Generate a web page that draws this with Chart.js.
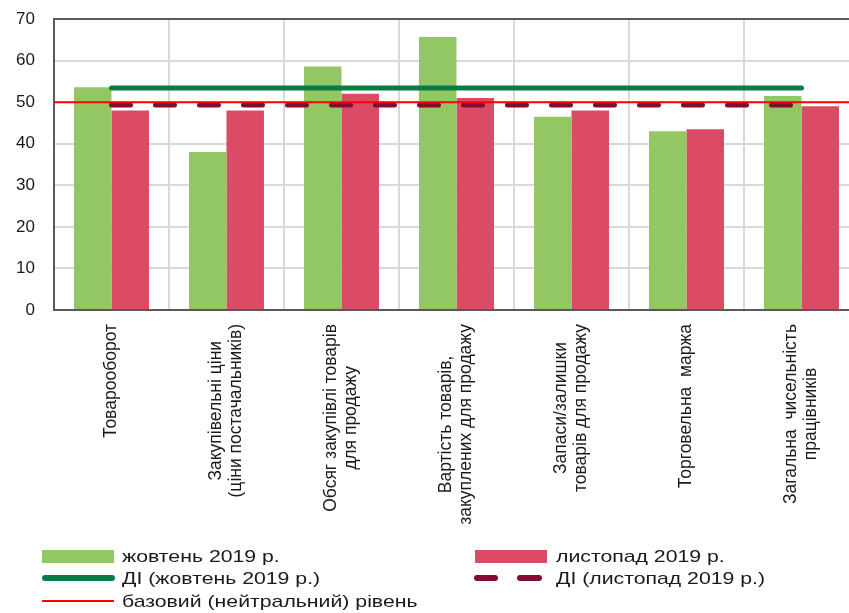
<!DOCTYPE html>
<html>
<head>
    <meta charset="utf-8">
    <title>ДІ роздрібної торгівлі</title>
    <script src="https://cdn.jsdelivr.net/npm/chart.js"></script>
    <style>
        body {
            margin: 0;
            background: #ffffff;
            overflow: hidden;
            font-family: "Liberation Sans", Arial, sans-serif;
        }
        .wrap {
            position: relative;
            width: 870px;
            height: 613px;
        }
        .legend-item {
            position: absolute;
            font-size: 17px;
            color: #1a1a1a;
            white-space: nowrap;
            transform: scaleX(1.25);
            transform-origin: left center;
            line-height: 20px;
        }
        .swatch {
            position: absolute;
        }
    </style>
</head>
<body>
<div class="wrap">
    <canvas id="dataChart"></canvas>

    <div class="swatch" style="left:42px; top:550px; width:72px; height:13px; background:#93c764;"></div>
    <div class="legend-item" style="left:122px; top:547px;">жовтень 2019 р.</div>
    <div class="swatch" style="left:475px; top:550px; width:72px; height:13px; background:#dc4b65;"></div>
    <div class="legend-item" style="left:556px; top:547px;">листопад 2019 р.</div>

    <div class="swatch" style="left:42px; top:575px; width:73px; height:6px; border-radius:3px; background:#0b7b45;"></div>
    <div class="legend-item" style="left:122px; top:569px;">ДІ (жовтень 2019 р.)</div>
    <div class="swatch" style="left:474px; top:575px; width:24px; height:6px; border-radius:3px; background:#820c33;"></div>
    <div class="swatch" style="left:517px; top:575px; width:25px; height:6px; border-radius:3px; background:#820c33;"></div>
    <div class="legend-item" style="left:556px; top:569px;">ДІ (листопад 2019 р.)</div>

    <div class="swatch" style="left:42px; top:600px; width:72px; height:2px; background:#ff0000;"></div>
    <div class="legend-item" style="left:122px; top:592px;">базовий (нейтральний) рівень</div>
</div>

<script>
    const categories = [
        ['Товарооборот'],
        ['Закупівельні ціни', '(ціни постачальників)'],
        ['Обсяг закупівлі товарів', 'для продажу'],
        ['Вартість товарів,', 'закуплених для продажу'],
        ['Запаси/залишки', 'товарів для продажу'],
        ['Торговельна  маржа'],
        ['Загальна  чисельність', 'працівників']
    ];
    const october = [53.6, 38, 58.6, 65.7, 46.5, 43, 51.5];
    const november = [48, 48, 52, 51, 48, 43.5, 49];
    const diOctober = 53.4;
    const diNovember = 49.3;
    const baseline = 50;

    // lines drawn across all categories
    const diOctoberLine = categories.map(() => diOctober);
    const diNovemberLine = categories.map(() => diNovember);

    const baselinePlugin = {
        id: 'baseline',
        afterDatasetsDraw(chart) {
            const {ctx, chartArea, scales} = chart;
            const y = scales.y.getPixelForValue(baseline);
            ctx.save();
            ctx.strokeStyle = '#ff0000';
            ctx.lineWidth = 2;
            ctx.beginPath();
            ctx.moveTo(chartArea.left, y);
            ctx.lineTo(chartArea.right, y);
            ctx.stroke();
            ctx.restore();
        }
    };

    // rotated category labels, lines centred on each other
    const xLabelsPlugin = {
        id: 'xLabels',
        afterDraw(chart) {
            const {ctx, scales} = chart;
            const xs = scales.x;
            const top = chart.chartArea.bottom + 14;
            const lineH = 20;
            ctx.save();
            ctx.font = '17.5px "Liberation Sans", Arial, sans-serif';
            ctx.fillStyle = '#1a1a1a';
            ctx.textAlign = 'center';
            ctx.textBaseline = 'middle';
            categories.forEach((lines, i) => {
                const x = xs.getPixelForTick(i);
                const maxW = Math.max(...lines.map(l => ctx.measureText(l).width));
                ctx.save();
                ctx.translate(x, top + maxW / 2);
                ctx.rotate(-Math.PI / 2);
                lines.forEach((l, j) => {
                    ctx.fillText(l, 0, (j - (lines.length - 1) / 2) * lineH);
                });
                ctx.restore();
            });
            ctx.restore();
        }
    };

    const ctx = document.getElementById('dataChart').getContext('2d');
    new Chart(ctx, {
        type: 'bar',
        data: {
            labels: categories,
            datasets: [
                {
                    type: 'line',
                    label: 'ДІ (жовтень 2019 р.)',
                    data: diOctoberLine,
                    borderColor: '#0b7b45',
                    borderWidth: 5,
                    borderCapStyle: 'round',
                    pointRadius: 0,
                    order: 0
                },
                {
                    type: 'line',
                    label: 'ДІ (листопад 2019 р.)',
                    data: diNovemberLine,
                    borderColor: '#820c33',
                    borderWidth: 5,
                    borderDash: [19, 25],
                    borderCapStyle: 'round',
                    pointRadius: 0,
                    order: 0
                },
                {
                    label: 'жовтень 2019 р.',
                    data: october,
                    backgroundColor: '#93c764',
                    categoryPercentage: 0.652,
                    barPercentage: 1,
                    order: 1
                },
                {
                    label: 'листопад 2019 р.',
                    data: november,
                    backgroundColor: '#dc4b65',
                    categoryPercentage: 0.652,
                    barPercentage: 1,
                    order: 1
                }
            ]
        },
        options: {
            responsive: true,
            maintainAspectRatio: false,
            animation: false,
            layout: {
                padding: {top: 19, right: 11, bottom: 303, left: 0}
            },
            plugins: {
                legend: {display: false},
                tooltip: {enabled: false}
            },
            scales: {
                x: {
                    grid: {
                        color: '#d9d9d9',
                        lineWidth: 2,
                        drawTicks: false
                    },
                    border: {color: '#595959', width: 2},
                    ticks: {display: false}
                },
                y: {
                    min: 0,
                    max: 70,
                    ticks: {
                        stepSize: 10,
                        padding: 19,
                        color: '#1a1a1a',
                        font: {family: '"Liberation Sans", Arial, sans-serif', size: 17}
                    },
                    grid: {
                        color: c => (c.tick && c.tick.value === 70) ? '#595959' : '#d9d9d9',
                        lineWidth: 2,
                        drawTicks: false
                    },
                    border: {color: '#595959', width: 2},
                    afterFit(scale) {
                        scale.width = 54;
                        // tick padding would otherwise push the plot down
                        scale.paddingTop = 10;
                        scale.paddingBottom = 10;
                    }
                }
            }
        },
        plugins: [baselinePlugin, xLabelsPlugin]
    });
</script>
</body>
</html>
